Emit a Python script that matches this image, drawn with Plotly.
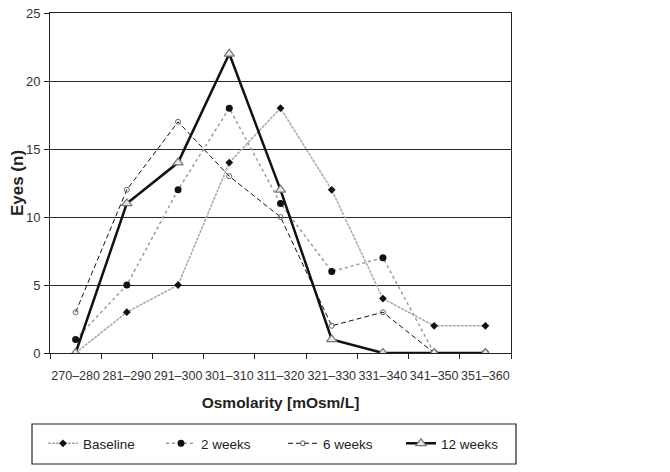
import plotly.graph_objects as go

categories = ["270–280", "281–290", "291–300", "301–310", "311–320",
              "321–330", "331–340", "341–350", "351–360"]
baseline = [0, 3, 5, 14, 18, 12, 4, 2, 2]
weeks2 = [1, 5, 12, 18, 11, 6, 7, 0, 0]
weeks6 = [3, 12, 17, 13, 10, 2, 3, 0, 0]
weeks12 = [0, 11, 14, 22, 12, 1, 0, 0, 0]

FONT = "Liberation Sans, Arial, sans-serif"
# page offset compensation (browser body margin)
L, T, PW, PH = 42, 5, 461, 340
W, H = 670, 472

fig = go.Figure()
fig.add_trace(go.Scatter(x=categories, y=baseline, name="Baseline", mode="lines+markers",
                         line=dict(color="#a8a8a8", width=1.5, dash="3px,1px"),
                         marker=dict(symbol="diamond", size=6, color="#111111"),
                         legend="legend"))
fig.add_trace(go.Scatter(x=categories, y=weeks2, name="2 weeks", mode="lines+markers",
                         line=dict(color="#9a9a9a", width=1.5, dash="dot"),
                         marker=dict(symbol="circle", size=7, color="#111111"),
                         legend="legend2"))
fig.add_trace(go.Scatter(x=categories, y=weeks6, name="6 weeks", mode="lines+markers",
                         line=dict(color="#111111", width=1, dash="5px,3px"),
                         marker=dict(symbol="circle-open", size=5, color="#666666",
                                     line=dict(width=1)),
                         legend="legend3"))
fig.add_trace(go.Scatter(x=categories, y=weeks12, name="12 weeks", mode="lines+markers",
                         line=dict(color="#111111", width=2.5),
                         marker=dict(symbol="triangle-up", size=9, color="#e8e8e8",
                                     line=dict(color="#777777", width=1.2)),
                         legend="legend4"))


def leg(xpix):
    return dict(orientation="h", xref="container", yref="container",
                x=xpix / W, y=1 - 420 / H, xanchor="left", yanchor="top",
                borderwidth=0, font=dict(size=13.5, color="#222222", family=FONT),
                bgcolor="rgba(0,0,0,0)")


fig.update_layout(
    width=W, height=H,
    margin=dict(l=L, r=W - L - PW, t=T, b=H - T - PH, autoexpand=False),
    paper_bgcolor="white", plot_bgcolor="white",
    font=dict(family=FONT, color="#333333", size=13),
    showlegend=True,
    legend=leg(35), legend2=leg(153), legend3=leg(275), legend4=leg(393),
)
fig.update_xaxes(type="category", showgrid=False, showline=True, linecolor="#222222",
                 linewidth=1, ticks="outside", tickson="boundaries", ticklen=5,
                 tickcolor="#222222", mirror=True, range=[-0.5, 8.5], tickangle=0,
                 automargin=False, ticklabelstandoff=11,
                 title=dict(text="<b>Osmolarity [mOsm/L]</b>",
                            font=dict(size=15.5, color="#222222", family=FONT), standoff=15),
                 tickfont=dict(size=12.5, color="#333333"))
fig.update_yaxes(range=[0, 25], dtick=5, showgrid=True, gridcolor="#2a2a2a", gridwidth=1,
                 showline=True, linecolor="#222222", linewidth=1, ticks="outside",
                 ticklen=5, tickcolor="#222222", zeroline=False, automargin=False,
                 ticklabelstandoff=1, ticklabeloverflow="allow", mirror=True,
                 title=dict(text="<b>Eyes (n)</b>",
                            font=dict(size=17, color="#222222", family=FONT), standoff=12),
                 tickfont=dict(size=13, color="#333333"))
# legend frame (figure pixel coords -> paper coords)
bx0, bx1, by0, by1 = 24, 508, 416, 456
fig.add_shape(type="rect", xref="paper", yref="paper",
              x0=(bx0 - L) / PW, x1=(bx1 - L) / PW,
              y0=(T + PH - by1) / PH, y1=(T + PH - by0) / PH,
              line=dict(color="#222222", width=1.2))

fig.write_html("out.html")
